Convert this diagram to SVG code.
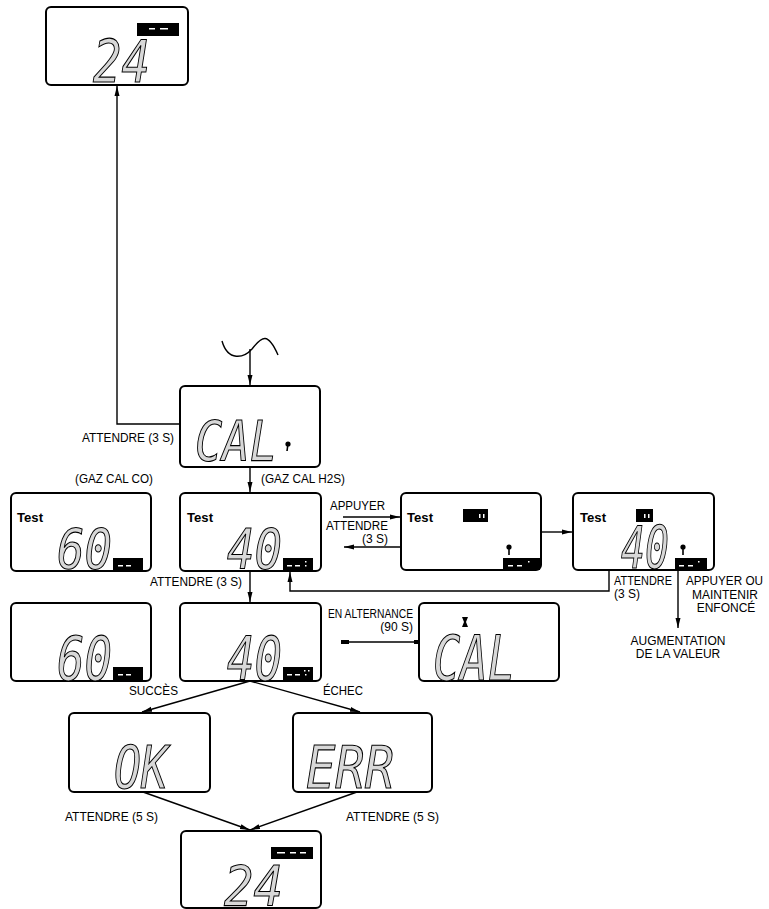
<svg xmlns="http://www.w3.org/2000/svg" width="769" height="909" viewBox="0 0 769 909">
<defs>
<style>
.box{fill:#fff;stroke:#000;stroke-width:2}
.ln{fill:none;stroke:#000;stroke-width:1.4}
.lbl{font-family:"Liberation Sans",Arial,sans-serif;font-size:12px;fill:#000}
.seg{font-family:"DejaVu Sans Mono","Liberation Mono",monospace;font-style:oblique;fill:#d8d8d8;stroke:#000;stroke-width:1.1}
.test{font-family:"Liberation Sans",Arial,sans-serif;font-size:13px;font-weight:bold;fill:#000}
.bar{fill:#000}
.pix{fill:#fff}
</style>
<marker id="ah" viewBox="0 0 10 6" refX="10" refY="3" markerWidth="10" markerHeight="6" markerUnits="userSpaceOnUse" orient="auto">
<path d="M0,0.5 L10,3 L0,5.5 z" fill="#000"/>
</marker>
<marker id="tk" viewBox="0 0 8 4" refX="4" refY="2" markerWidth="8" markerHeight="4" markerUnits="userSpaceOnUse" orient="auto">
<rect x="0" y="0" width="8" height="4" fill="#000"/>
</marker>
</defs>
<rect width="769" height="909" fill="#fff"/>

<g id="connectors">
<polyline class="ln" points="180,424 117,424 117,86" marker-end="url(#ah)"/>
<path class="ln" d="M222,341 C228,362 244,358 252,349 C262,336 268,332 278,355"/>
<line class="ln" x1="250" y1="349" x2="250" y2="385" marker-end="url(#ah)"/>
<line class="ln" x1="250" y1="467" x2="250" y2="492" marker-end="url(#ah)"/>
<line class="ln" x1="250" y1="571" x2="250" y2="602" marker-end="url(#ah)"/>
<line class="ln" x1="343" y1="517" x2="400" y2="517" marker-end="url(#ah)"/>
<line class="ln" x1="401" y1="547" x2="344" y2="547" marker-end="url(#ah)"/>
<line class="ln" x1="541" y1="532" x2="572" y2="532" marker-end="url(#ah)"/>
<polyline class="ln" points="609,570 609,591 290,591 290,572" marker-end="url(#ah)"/>
<line class="ln" x1="678" y1="570" x2="678" y2="628" marker-end="url(#ah)"/>
<line class="ln" x1="345" y1="642" x2="418" y2="642" marker-start="url(#tk)" marker-end="url(#tk)"/>
<line class="ln" x1="250" y1="681" x2="142" y2="712" marker-end="url(#ah)"/>
<line class="ln" x1="250" y1="681" x2="360" y2="712" marker-end="url(#ah)"/>
<line class="ln" x1="143" y1="792" x2="250" y2="830" marker-end="url(#ah)"/>
<line class="ln" x1="357" y1="792" x2="250" y2="830" marker-end="url(#ah)"/>
</g>

<g id="labels">
<text class="lbl" x="82" y="442" textLength="92" lengthAdjust="spacingAndGlyphs">ATTENDRE (3 S)</text>
<text class="lbl" x="75" y="483" textLength="78" lengthAdjust="spacingAndGlyphs">(GAZ CAL CO)</text>
<text class="lbl" x="261" y="483" textLength="84" lengthAdjust="spacingAndGlyphs">(GAZ CAL H2S)</text>
<text class="lbl" x="330" y="510" textLength="55" lengthAdjust="spacingAndGlyphs">APPUYER</text>
<text class="lbl" x="326" y="530" font-size="11.5" textLength="62" lengthAdjust="spacingAndGlyphs">ATTENDRE</text>
<text class="lbl" x="362" y="543" font-size="11.5">(3 S)</text>
<text class="lbl" x="150" y="586" textLength="92" lengthAdjust="spacingAndGlyphs">ATTENDRE (3 S)</text>
<text class="lbl" x="614" y="585" font-size="11.5" textLength="58" lengthAdjust="spacingAndGlyphs">ATTENDRE</text>
<text class="lbl" x="614" y="598" font-size="11.5">(3 S)</text>
<text class="lbl" x="686" y="585" textLength="77" lengthAdjust="spacingAndGlyphs">APPUYER OU</text>
<text class="lbl" x="725" y="599" text-anchor="middle">MAINTENIR</text>
<text class="lbl" x="726" y="612" text-anchor="middle">ENFONCÉ</text>
<text class="lbl" x="678" y="645" text-anchor="middle">AUGMENTATION</text>
<text class="lbl" x="678" y="658" text-anchor="middle">DE LA VALEUR</text>
<text class="lbl" x="328" y="618" textLength="85" lengthAdjust="spacingAndGlyphs">EN ALTERNANCE</text>
<text class="lbl" x="413" y="631" text-anchor="end">(90 S)</text>
<text class="lbl" x="129" y="695" textLength="49" lengthAdjust="spacingAndGlyphs">SUCCÈS</text>
<text class="lbl" x="323" y="695" textLength="40" lengthAdjust="spacingAndGlyphs">ÉCHEC</text>
<text class="lbl" x="65" y="821" textLength="93" lengthAdjust="spacingAndGlyphs">ATTENDRE (5 S)</text>
<text class="lbl" x="346" y="821" textLength="93" lengthAdjust="spacingAndGlyphs">ATTENDRE (5 S)</text>
</g>

<g id="top-24">
<rect class="box" x="46" y="7" width="142" height="78" rx="5"/>
<rect class="bar" x="137" y="23" width="42" height="13"/>
<rect class="pix" x="149" y="28" width="6" height="1.5"/><rect class="pix" x="160" y="28" width="8" height="1.5"/>
<text class="seg" x="93" y="82" font-size="58" textLength="57" lengthAdjust="spacingAndGlyphs">24</text>
</g>

<g id="cal-prompt">
<rect class="box" x="180" y="386" width="140" height="81" rx="5"/>
<text class="seg" x="195" y="460" font-size="55" textLength="82" lengthAdjust="spacingAndGlyphs">CAL</text>
<circle cx="288" cy="444" r="2.6" fill="#000"/><line x1="288" y1="444" x2="287" y2="451" stroke="#000" stroke-width="1.6"/>
</g>

<g id="co-test">
<rect class="box" x="11" y="493" width="140" height="78" rx="5"/>
<text class="test" x="17" y="522" textLength="26" lengthAdjust="spacingAndGlyphs">Test</text>
<text class="seg" x="57" y="568" font-size="56" textLength="55" lengthAdjust="spacingAndGlyphs">60</text>
<rect class="bar" x="113" y="558" width="30" height="12"/>
<rect class="pix" x="118" y="565" width="5" height="1.5"/><rect class="pix" x="126" y="565" width="5" height="1.5"/>
</g>

<g id="h2s-test">
<rect class="box" x="180" y="493" width="141" height="78" rx="5"/>
<text class="test" x="187" y="522" textLength="26" lengthAdjust="spacingAndGlyphs">Test</text>
<text class="seg" x="227" y="568" font-size="56" textLength="55" lengthAdjust="spacingAndGlyphs">40</text>
<rect class="bar" x="283" y="558" width="30" height="12"/>
<rect class="pix" x="287" y="565" width="5" height="1.5"/><rect class="pix" x="295" y="565" width="5" height="1.5"/><rect class="pix" x="305" y="561" width="1.5" height="1.5"/><rect class="pix" x="305" y="565" width="1.5" height="1.5"/>
</g>

<g id="test-blank">
<rect class="box" x="401" y="493" width="140" height="77" rx="5"/>
<text class="test" x="407" y="522" textLength="26" lengthAdjust="spacingAndGlyphs">Test</text>
<rect class="bar" x="463" y="509" width="25" height="13"/>
<rect class="pix" x="479" y="514" width="1.5" height="4"/><rect class="pix" x="483" y="514" width="1.5" height="4"/>
<circle cx="509" cy="547" r="2.6" fill="#000"/><line x1="509" y1="547" x2="509" y2="555" stroke="#000" stroke-width="1.6"/>
<rect class="bar" x="503" y="558" width="37" height="12"/>
<rect class="pix" x="508" y="565" width="5" height="1.5"/><rect class="pix" x="517" y="565" width="5" height="1.5"/><rect class="pix" x="528" y="561" width="1.5" height="1.5"/>
</g>

<g id="test-value">
<rect class="box" x="573" y="493" width="141" height="77" rx="5"/>
<text class="test" x="580" y="522" textLength="26" lengthAdjust="spacingAndGlyphs">Test</text>
<rect class="bar" x="636" y="509" width="17" height="13"/>
<rect class="pix" x="644" y="514" width="1.5" height="4"/><rect class="pix" x="648" y="514" width="1.5" height="4"/>
<text class="seg" x="621" y="568" font-size="58" textLength="48" lengthAdjust="spacingAndGlyphs">40</text>
<circle cx="683" cy="547" r="2.6" fill="#000"/><line x1="683" y1="547" x2="683" y2="555" stroke="#000" stroke-width="1.6"/>
<rect class="bar" x="675" y="558" width="32" height="12"/>
<rect class="pix" x="679" y="565" width="5" height="1.5"/><rect class="pix" x="688" y="565" width="5" height="1.5"/><rect class="pix" x="698" y="561" width="1.5" height="1.5"/>
</g>

<g id="co-result">
<rect class="box" x="11" y="603" width="140" height="78" rx="5"/>
<text class="seg" x="57" y="680" font-size="60" textLength="55" lengthAdjust="spacingAndGlyphs">60</text>
<rect class="bar" x="113" y="667" width="30" height="13"/>
<rect class="pix" x="118" y="674" width="5" height="1.5"/><rect class="pix" x="126" y="674" width="5" height="1.5"/>
</g>

<g id="h2s-result">
<rect class="box" x="180" y="603" width="141" height="78" rx="5"/>
<text class="seg" x="227" y="680" font-size="60" textLength="55" lengthAdjust="spacingAndGlyphs">40</text>
<rect class="bar" x="283" y="667" width="30" height="13"/>
<rect class="pix" x="287" y="674" width="5" height="1.5"/><rect class="pix" x="295" y="674" width="5" height="1.5"/><rect class="pix" x="304" y="670" width="1.5" height="1.5"/><rect class="pix" x="308" y="670" width="1.5" height="1.5"/><rect class="pix" x="305" y="674" width="1.5" height="1.5"/>
</g>

<g id="cal-alt">
<rect class="box" x="419" y="603" width="140" height="78" rx="5"/>
<path d="M462,617 L468,617 L466,622 L468,627 L462,627 L464,622 z" fill="#000"/>
<text class="seg" x="433" y="680" font-size="62" textLength="82" lengthAdjust="spacingAndGlyphs">CAL</text>
</g>

<g id="ok">
<rect class="box" x="69" y="713" width="141" height="79" rx="5"/>
<text class="seg" x="114" y="788" font-size="58" textLength="54" lengthAdjust="spacingAndGlyphs">OK</text>
</g>

<g id="err">
<rect class="box" x="293" y="713" width="139" height="79" rx="5"/>
<text class="seg" x="306" y="788" font-size="58" textLength="88" lengthAdjust="spacingAndGlyphs">ERR</text>
</g>

<g id="bottom-24">
<rect class="box" x="181" y="831" width="140" height="77" rx="5"/>
<rect class="bar" x="271" y="847" width="42" height="12"/>
<rect class="pix" x="277" y="852" width="8" height="1.5"/><rect class="pix" x="290" y="852" width="6" height="1.5"/><rect class="pix" x="300" y="852" width="6" height="1.5"/>
<text class="seg" x="224" y="905" font-size="56" textLength="59" lengthAdjust="spacingAndGlyphs">24</text>
</g>
</svg>
